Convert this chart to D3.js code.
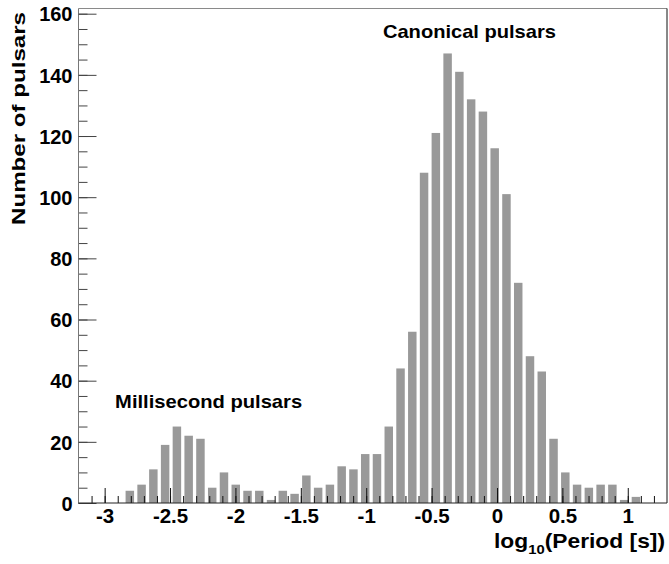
<!DOCTYPE html>
<html>
<head>
<meta charset="utf-8">
<script src="https://cdn.jsdelivr.net/npm/d3@7"></script>
<style>
  html, body { margin: 0; padding: 0; background: #fff; }
  svg { display: block; }
  text { font-family: "Liberation Sans", Arial, Helvetica, sans-serif; font-weight: bold; fill: #000; }
</style>
</head>
<body>
<svg id="chart" width="669" height="564"></svg>
<script>
// Histogram binning: 50 bins of width 0.09 in log10(P / s)
const binStart = -3.2;
const binWidth = 0.09;
// Pulsar counts per bin, left to right
const counts = [
  0, 0, 0, 0, 4, 6, 11, 19, 25, 22,
  21, 5, 10, 6, 4, 4, 1, 4, 3, 9,
  5, 6, 12, 11, 16, 16, 25, 44, 56, 108,
  121, 147, 141, 132, 128, 116, 101, 72, 48, 43,
  21, 10, 6, 5, 6, 6, 1, 2, 0, 0
];
const xMajorTicks = [-3, -2.5, -2, -1.5, -1, -0.5, 0, 0.5, 1];
const xMinorTicks = d3.range(-31, 13).map(d => d / 10);
const yMajorTicks = [0, 20, 40, 60, 80, 100, 120, 140, 160];
const yMinorTicks = d3.range(0, 161, 5);
const annotations = [
  { text: "Canonical pulsars", x: -0.872, y: 152.2, len: 173 },
  { text: "Millisecond pulsars", x: -2.92, y: 31.2, len: 187 }
];

const svg = d3.select("#chart");
const plotLeft = 78.5, plotRight = 667, plotTop = 8.5, plotBottom = 503;
const yMax = 161.7;
const xDomainEnd = binStart + binWidth * counts.length;

const x = d3.scaleLinear().domain([binStart, xDomainEnd]).range([plotLeft, plotRight]);
const y = d3.scaleLinear().domain([0, yMax]).range([plotBottom, plotTop]);

const bins = counts.map((c, i) => ({ x0: binStart + i * binWidth, count: c }));

// Bars: each occupies the leading 72% of its bin
svg.append("g").selectAll("rect")
  .data(bins.filter(d => d.count > 0))
  .join("rect")
  .attr("x", d => x(d.x0))
  .attr("width", x(binStart + binWidth * 0.72) - x(binStart))
  .attr("y", d => y(d.count))
  .attr("height", d => y(0) - y(d.count))
  .attr("fill", "#999999");

// Frame: top and right edges
svg.append("line").attr("x1", plotLeft).attr("x2", plotRight).attr("y1", plotTop).attr("y2", plotTop)
  .attr("stroke", "#8a8a8a").attr("stroke-width", 1);
svg.append("line").attr("x1", plotRight).attr("x2", plotRight).attr("y1", plotTop).attr("y2", plotBottom)
  .attr("stroke", "#111").attr("stroke-width", 1);

// Y axis (ticks point into the frame)
const yAxisMinor = d3.axisLeft(y).tickValues(yMinorTicks).tickSize(-9).tickFormat("");
const yAxisMajor = d3.axisLeft(y).tickValues(yMajorTicks).tickSize(-18).tickPadding(6).tickFormat(d => String(d));
const gyMinor = svg.append("g").attr("transform", `translate(${plotLeft},0)`).call(yAxisMinor);
gyMinor.select(".domain").remove();
gyMinor.selectAll("line").attr("stroke", "#444");
const gy = svg.append("g").attr("transform", `translate(${plotLeft},0)`).call(yAxisMajor);
gy.select(".domain").attr("d", `M0,${plotTop}V${plotBottom}`).attr("stroke", "#777");
gy.selectAll("line").attr("stroke", "#444");
gy.selectAll("text").style("font-size", "20px").attr("fill", "#000").attr("dy", "0.36em");

// X axis (ticks point up into the frame, drawn over the bars); plain hyphen for negatives
const xAxisMinor = d3.axisBottom(x).tickValues(xMinorTicks).tickSize(-7).tickFormat("");
const xAxisMajor = d3.axisBottom(x).tickValues(xMajorTicks).tickSize(-15).tickPadding(5)
  .tickFormat(d => String(d));
const gxMinor = svg.append("g").attr("transform", `translate(0,${plotBottom})`).call(xAxisMinor);
gxMinor.select(".domain").remove();
gxMinor.selectAll("line").attr("stroke", "#111");
const gx = svg.append("g").attr("transform", `translate(0,${plotBottom})`).call(xAxisMajor);
gx.select(".domain").attr("d", `M${plotLeft},0H${plotRight}`).attr("stroke", "#222");
gx.selectAll("line").attr("stroke", "#111");
gx.selectAll("text").style("font-size", "20.5px").attr("fill", "#000");

// Axis titles
svg.append("text")
  .attr("transform", "translate(25,12) rotate(-90)")
  .attr("text-anchor", "end")
  .style("font-size", "19px")
  .attr("textLength", 213).attr("lengthAdjust", "spacingAndGlyphs")
  .text("Number of pulsars");

const xt = svg.append("text")
  .attr("transform", "translate(665,547.5) scale(1.14,1)")
  .attr("text-anchor", "end")
  .style("font-size", "20px");
xt.append("tspan").text("log");
xt.append("tspan").attr("dy", 6).style("font-size", "13px").text("10");
xt.append("tspan").attr("dy", -6).text("(Period [s])");

// Population labels
svg.append("g").selectAll("text")
  .data(annotations)
  .join("text")
  .attr("x", d => x(d.x))
  .attr("y", d => y(d.y))
  .style("font-size", "18.5px")
  .attr("textLength", d => d.len).attr("lengthAdjust", "spacingAndGlyphs")
  .text(d => d.text);
</script>
</body>
</html>
